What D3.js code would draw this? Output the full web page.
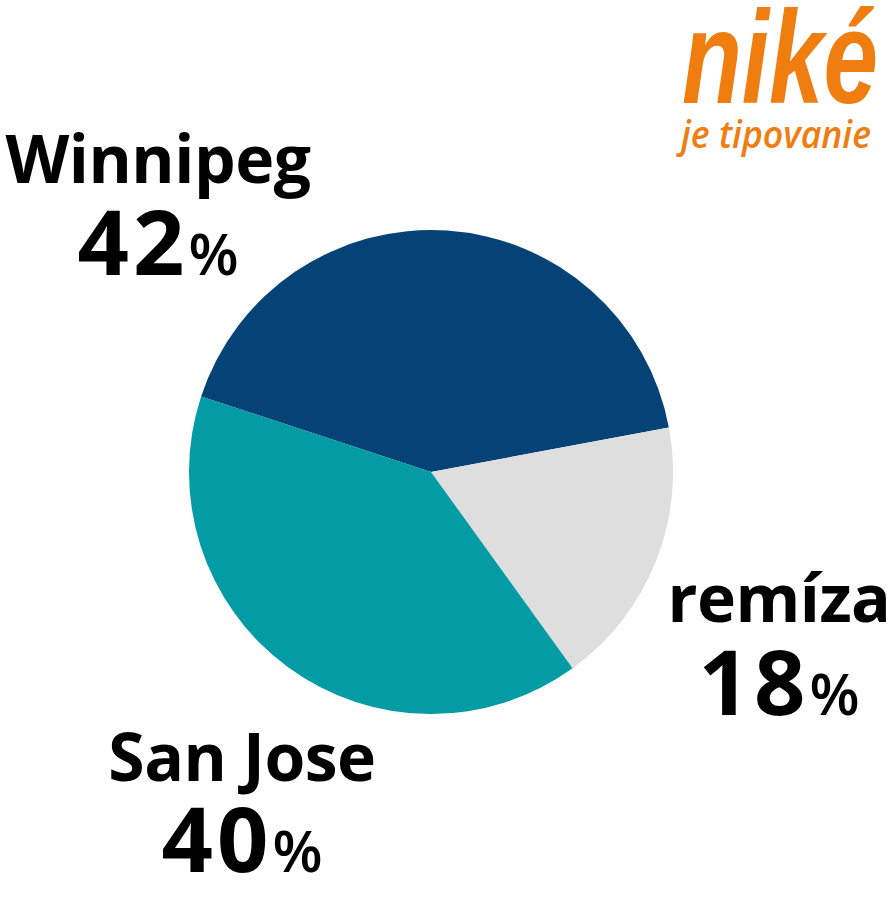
<!DOCTYPE html>
<html>
<head>
<meta charset="utf-8">
<script src="https://cdn.jsdelivr.net/npm/d3@7"></script>
<style>
  html, body { margin: 0; padding: 0; background: #fff; }
  svg { display: block; }
</style>
</head>
<body>
<div id="chart"></div>
<script>
  // Data
  let labels = ["Winnipeg", "remíza", "San Jose"];
  let values = [42, 18, 40];
  let colors = ["#054377", "#dedede", "#039ba4"];

  let width = 891, height = 899;
  let cx = 431, cy = 472, radius = 242;

  let svg = d3.select("#chart").append("svg")
    .attr("width", width)
    .attr("height", height);

  //Pie layout - Winnipeg starts at the left edge, going clockwise
  let startDeg = -71.8;
  let pie = d3.pie()
    .sort(null)
    .value(function(d) { return d; })
    .startAngle(startDeg * Math.PI / 180)
    .endAngle((startDeg + 360) * Math.PI / 180);

  let arc = d3.arc().innerRadius(0).outerRadius(radius);

  let g = svg.append("g").attr("transform", "translate(" + cx + "," + cy + ")");

  g.selectAll("path")
    .data(pie(values))
    .enter()
    .append("path")
      .attr("d", arc)
      .attr("fill", function(d, i) { return colors[i]; });

  //Label positions (name baseline, value baseline, center x)
  let labelPos = [
    { x: 158, y1: 183, y2: 275 },
    { x: 779, y1: 622, y2: 715 },
    { x: 242, y1: 781, y2: 872 }
  ];

  let font = "'Open Sans', 'Noto Sans', sans-serif";

  let lbl = svg.selectAll(".lbl")
    .data(labels)
    .enter()
    .append("g")
      .attr("class", "lbl");

  lbl.append("text")
    .text(function(d) { return d; })
    .attr("x", function(d, i) { return labelPos[i].x; })
    .attr("y", function(d, i) { return labelPos[i].y1; })
    .attr("text-anchor", "middle")
    .attr("font-family", font)
    .attr("font-weight", 700)
    .attr("font-size", "66px")
    .attr("letter-spacing", "-0.5px")
    .attr("fill", "#000");

  let pct = lbl.append("text")
    .attr("x", function(d, i) { return labelPos[i].x; })
    .attr("y", function(d, i) { return labelPos[i].y2; })
    .attr("text-anchor", "middle")
    .attr("font-family", font)
    .attr("font-weight", 700)
    .attr("fill", "#000");

  pct.append("tspan")
    .attr("font-size", "90px")
    .attr("letter-spacing", "4px")
    .text(function(d, i) { return values[i]; });

  pct.append("tspan")
    .attr("font-size", "58px")
    .attr("font-weight", 600)
    .text("%");

  //Logo
  let orange = "#ef7d0f";
  svg.append("text")
    .text("niké")
    .attr("x", 682)
    .attr("y", 103)
    .attr("font-family", "'Liberation Sans Narrow', 'Liberation Sans', sans-serif")
    .attr("font-style", "italic")
    .attr("font-weight", 700)
    .attr("font-size", "132px")
    .attr("textLength", 196)
    .attr("lengthAdjust", "spacingAndGlyphs")
    .attr("fill", orange);

  svg.append("text")
    .text("je tipovanie")
    .attr("x", 681)
    .attr("y", 148)
    .attr("font-family", "'Open Sans', sans-serif")
    .attr("font-style", "italic")
    .attr("font-weight", 600)
    .attr("font-size", "38px")
    .attr("textLength", 190)
    .attr("lengthAdjust", "spacingAndGlyphs")
    .attr("fill", orange);
</script>
</body>
</html>
